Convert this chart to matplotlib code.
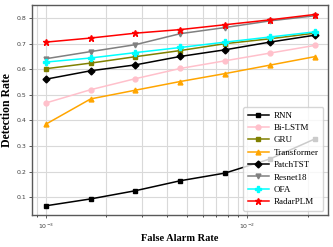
import matplotlib
matplotlib.use("Agg")
import matplotlib.pyplot as plt

far = [0.001, 0.00167, 0.00278, 0.00464, 0.00774, 0.0129, 0.0215]

rnn = [0.066, 0.093, 0.125, 0.164, 0.194, 0.249, 0.327]
bilstm = [0.468, 0.520, 0.563, 0.603, 0.633, 0.663, 0.693]
gru = [0.602, 0.624, 0.649, 0.673, 0.700, 0.719, 0.741]
transformer = [0.385, 0.484, 0.518, 0.552, 0.583, 0.616, 0.649]
patchtst = [0.561, 0.594, 0.617, 0.650, 0.676, 0.706, 0.733]
resnet18 = [0.641, 0.669, 0.696, 0.739, 0.763, 0.789, 0.809]
ofa = [0.628, 0.644, 0.665, 0.685, 0.706, 0.726, 0.746]
radarplm = [0.706, 0.722, 0.741, 0.755, 0.774, 0.793, 0.814]

series = [
    ("RNN", rnn, "black", "s"),
    ("Bi-LSTM", bilstm, "pink", "o"),
    ("GRU", gru, "olive", "s"),
    ("Transformer", transformer, "orange", "^"),
    ("PatchTST", patchtst, "black", "D"),
    ("Resnet18", resnet18, "gray", "v"),
    ("OFA", ofa, "cyan", "P"),
    ("RadarPLM", radarplm, "red", "*"),
]

fig = plt.figure(figsize=(3.33, 2.47), dpi=100)
ax = fig.add_axes([0.097, 0.128, 0.888, 0.852])

for name, vals, c, m in series:
    ms = 3.5 if m not in ("*", "P") else 4.5
    ax.plot(far, vals, color=c, marker=m, markersize=ms, linewidth=1.1, label=name)

ax.set_xscale("log")
ax.grid(True, which="both", color="0.85", linewidth=0.8)
ax.set_axisbelow(True)

ax.tick_params(labelsize=4.5, length=2.5, width=0.6, colors="0.25", pad=2)
ax.tick_params(which="minor", length=1.5, width=0.5)
for s in ax.spines.values():
    s.set_color("0.35")
    s.set_linewidth(1.0)

ax.set_xlabel("False Alarm Rate", fontfamily="Liberation Serif", fontweight="bold", fontsize=7.5, labelpad=2)
ax.set_ylabel("Detection Rate", fontfamily="Liberation Serif", fontweight="bold", fontsize=8.5, labelpad=2)

ax.legend(loc="lower right", prop={"family": "Liberation Serif", "size": 6.5},
          framealpha=0.8, handlelength=2.3, labelspacing=0.45, borderpad=0.5,
          handletextpad=0.6)

fig.savefig("out.png", dpi=100)
